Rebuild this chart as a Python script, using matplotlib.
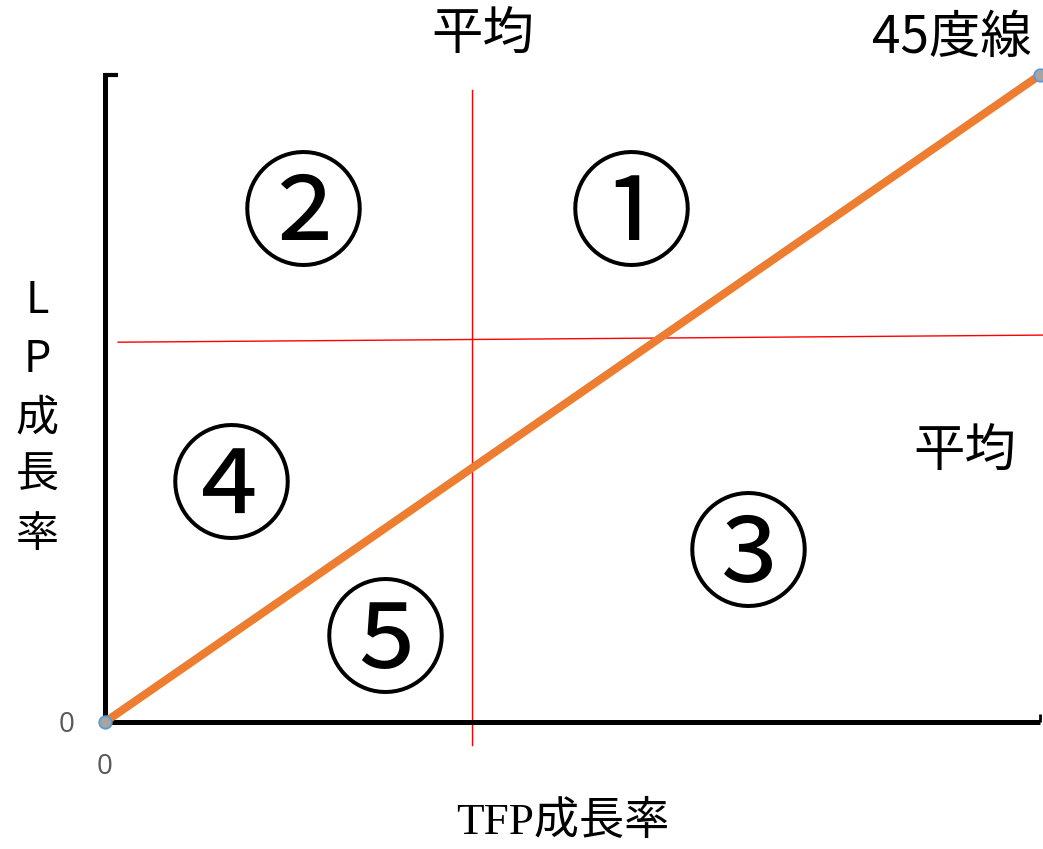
import matplotlib
matplotlib.use("Agg")
import matplotlib.pyplot as plt

plt.rcParams['font.family'] = ['Noto Sans CJK JP', 'DejaVu Sans']

# data
diag_x = [0.0, 1.0]
diag_y = [0.0, 1.0]
avg_x = 0.3925                 # TFP growth average (vertical red line)
avg_x_span = [-0.036, 0.977]
avg_y_line_x = [0.014, 1.004]  # LP growth average (horizontal red line)
avg_y_line_y = [0.587, 0.598]
region_labels = ['①', '②', '③', '④', '⑤']
region_pos = [(0.563, 0.793), (0.212, 0.793), (0.688, 0.266), (0.135, 0.372), (0.300, 0.134)]
x_ticks = [0]
y_ticks = [0]
tick_labels = ['0']

W, H = 1043, 849
fig = plt.figure(figsize=(W / 100, H / 100), dpi=100)
ax = fig.add_axes([105 / W, 1 - 722 / H, (1040 - 105) / W, (722 - 75) / H])
ax.set_xlim(0, 1)
ax.set_ylim(0, 1)
for s in ax.spines.values():
    s.set_visible(False)

# axes frame
ax.plot([0, 0], [0, 1], color='black', lw=3.6, clip_on=False, solid_capstyle='projecting', zorder=3)
ax.plot([0, 1], [0, 0], color='black', lw=3.6, clip_on=False, solid_capstyle='butt', zorder=3)
ax.plot([0, 0.014], [1, 1], color='black', lw=3.0, clip_on=False, solid_capstyle='butt', zorder=3)
ax.plot([1, 1], [0, 0.012], color='black', lw=2.0, clip_on=False, solid_capstyle='butt', zorder=3)

# average lines
ax.plot([avg_x, avg_x], avg_x_span, color='#FF0000', lw=1.0, clip_on=False, zorder=2)
ax.plot(avg_y_line_x, avg_y_line_y, color='#FF0000', lw=1.0, clip_on=False, zorder=2)

# 45 degree line
ax.plot(diag_x, diag_y, color='#ED7D31', lw=5.8, clip_on=False, zorder=4,
        marker='o', ms=9, markerfacecolor='#A5A5A5', markeredgecolor='#5B9BD5',
        markeredgewidth=1.3)

# region labels
for lab, (x, y) in zip(region_labels, region_pos):
    ax.annotate(lab, (x, y), xytext=(0, -12), textcoords='offset pixels',
                ha='center', va='center', fontsize=90, color='black', fontweight='normal')

# ticks
ax.set_xticks(x_ticks)
ax.set_xticklabels(tick_labels)
ax.set_yticks(y_ticks)
ax.set_yticklabels(tick_labels)
ax.tick_params(length=0, labelsize=20, labelcolor='#595959')
ax.tick_params(axis='x', pad=22)
ax.tick_params(axis='y', pad=22)
for t in ax.get_xticklabels() + ax.get_yticklabels():
    t.set_family(['Open Sans', 'DejaVu Sans'])

# annotations
fig.text(483 / W, 1 - 35 / H, '平均', ha='center', va='center', fontsize=37)
fig.text(952 / W, 1 - 38 / H, '45度線', ha='center', va='center', fontsize=37)
fig.text(965 / W, 1 - 452 / H, '平均', ha='center', va='center', fontsize=37)
fig.text(37 / W, 1 - 418 / H, 'L\nP\n成\n長\n率', ha='center', va='center',
         fontsize=31, linespacing=1.42)
fig.text(563 / W, 1 - 822 / H, 'TFP成長率', ha='center', va='center', fontsize=32.5,
         family=['Liberation Serif', 'Noto Sans CJK JP'])

fig.savefig('out.png', dpi=100)
